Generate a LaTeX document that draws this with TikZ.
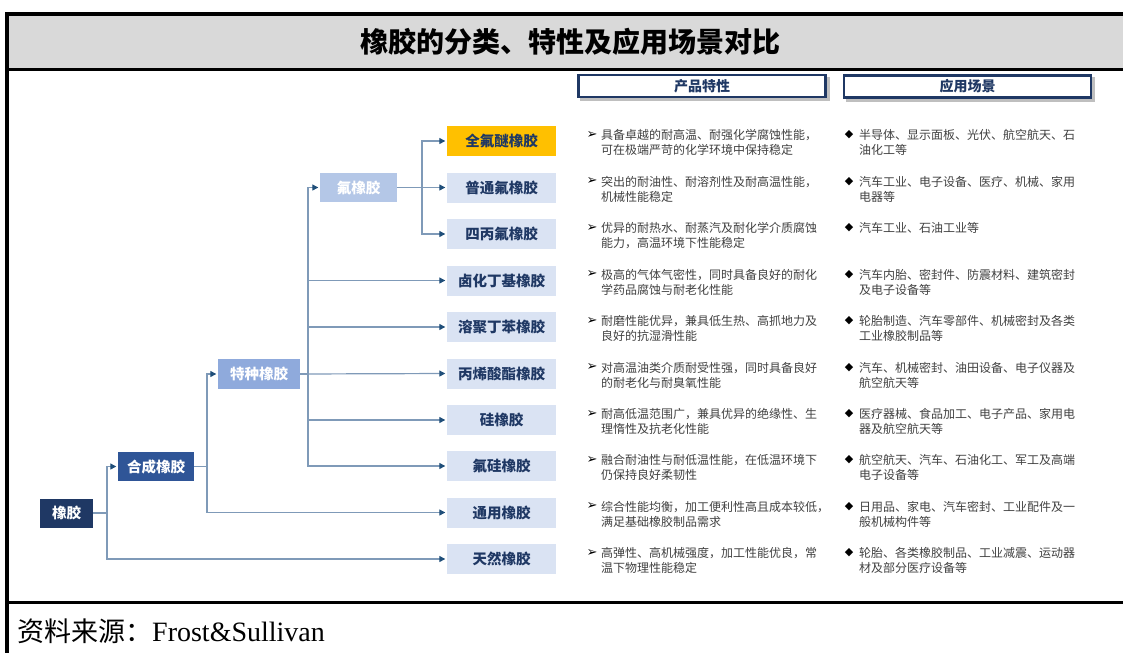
\documentclass[tikz,border=0pt]{standalone}
\usepackage{fontspec}
\setmainfont{Liberation Serif}
\newfontfamily\cjk{Noto Sans CJK SC}
\newfontfamily\symf{DejaVu Sans}
\usetikzlibrary{arrows.meta}
\definecolor{navy}{HTML}{1F3864}
\definecolor{midblue}{HTML}{2F5597}
\definecolor{lightblue}{HTML}{8FAADC}
\definecolor{paleblue}{HTML}{B4C7E7}
\definecolor{leafblue}{HTML}{DAE3F3}
\definecolor{gold}{HTML}{FFC000}
\definecolor{linec}{HTML}{7F9AB8}
\definecolor{tipc}{HTML}{1F4E79}
\definecolor{titlegray}{HTML}{D9D9D9}
\definecolor{txtgray}{HTML}{404040}
\begin{document}
\begin{tikzpicture}[x=1pt,y=-1pt,
  tbox/.style={rectangle, inner sep=0pt, minimum height=29pt, font=\cjk\bfseries\fontsize{14.5}{16}\selectfont},
  leaf/.style={tbox, fill=leafblue, text=navy, minimum width=109pt, minimum height=30pt},
  inner/.style={tbox, text=white},
  conn/.style={draw=linec, line width=1.2pt, -{Triangle[length=6pt,width=6pt,color=tipc]}, shorten >=1.5pt},
  plain/.style={draw=linec, line width=1.2pt},
  desc/.style={anchor=west, inner sep=0pt, align=left, text=txtgray, font=\cjk\fontsize{12}{15}\selectfont},
  desc1/.style={anchor=west, inner sep=0pt, align=left, text=txtgray, font=\cjk\fontsize{12}{15}\selectfont},
  bul/.style={inner sep=0pt, font=\symf\fontsize{11}{12}\selectfont},
  arrbul/.style={inner sep=0pt, font=\symf\fontsize{13}{14}\selectfont},
  hdr/.style={draw=navy, line width=2.5pt, fill=white, minimum width=247pt, minimum height=22pt, inner sep=0pt, text=navy, font=\cjk\bfseries\fontsize{14}{16}\selectfont}
]
\useasboundingbox (0,0) rectangle (1123,653);
% frame
\fill[titlegray] (7,14) rectangle (1123,69);
\draw[line width=4pt] (7,12) -- (7,653);
\draw[line width=4pt] (5,14) -- (1123,14);
\draw[line width=3pt] (5,69.5) -- (1123,69.5);
\draw[line width=3pt] (5,602.5) -- (1123,602.5);
\node[font=\cjk\bfseries\fontsize{28}{30}\selectfont] (title) at (570,42) {橡胶的分类、特性及应用场景对比};
\node[anchor=west, inner sep=0pt] (source) at (17,631) {{\cjk\fontsize{27}{29}\selectfont 资料来源：}{\fontsize{28}{30}\selectfont Frost\&Sullivan}};
% headers
\fill[black!25] (580,77) rectangle (830,101);
\fill[black!25] (846,77) rectangle (1095,102);
\node[hdr] (h1) at (702,86) {产品特性};
\node[hdr] (h2) at (967.5,86.5) {应用场景};
% tree nodes
\node[inner, fill=navy, minimum width=53pt] (rubber) at (66.5,513) {橡胶};
\node[inner, fill=midblue, minimum width=76pt] (synth) at (156,466.5) {合成橡胶};
\node[inner, fill=lightblue, minimum width=82pt, minimum height=30pt] (special) at (259,374) {特种橡胶};
\node[inner, fill=paleblue, minimum width=77pt] (fluoro) at (358.5,187.5) {氟橡胶};
% leaves
\node[leaf, fill=gold] (l1) at (501.5,141) {全氟醚橡胶};
\node[leaf] (l2) at (501.5,187.5) {普通氟橡胶};
\node[leaf] (l3) at (501.5,234) {四丙氟橡胶};
\node[leaf] (l4) at (501.5,280.5) {卤化丁基橡胶};
\node[leaf] (l5) at (501.5,327) {溶聚丁苯橡胶};
\node[leaf] (l6) at (501.5,373.5) {丙烯酸酯橡胶};
\node[leaf] (l7) at (501.5,420) {硅橡胶};
\node[leaf] (l8) at (501.5,466) {氟硅橡胶};
\node[leaf] (l9) at (501.5,512.5) {通用橡胶};
\node[leaf] (l10) at (501.5,559) {天然橡胶};
% buses
\coordinate (b1) at (107,0);
\coordinate (b2) at (207,0);
\coordinate (b3) at (308,0);
\coordinate (b4) at (422,0);
\draw[plain] (rubber.east) -- (rubber.east -| b1);
\draw[conn] (rubber.east -| b1) |- (synth.west);
\draw[conn] (rubber.east -| b1) |- (l10.west);
\draw[plain] (synth.east) -- (synth.east -| b2);
\draw[conn] (synth.east -| b2) |- (special.west);
\draw[conn] (synth.east -| b2) |- (l9.west);
\draw[plain] (special.east) -- (special.east -| b3);
\draw[conn] (special.east -| b3) |- (fluoro.west);
\draw[conn] (special.east -| b3) |- (l4.west);
\draw[conn] (special.east -| b3) |- (l5.west);
\draw[conn] (special.east) -- (l6.west);
\draw[conn] (special.east -| b3) |- (l7.west);
\draw[conn] (special.east -| b3) |- (l8.west);
\draw[plain] (fluoro.east) -- (fluoro.east -| b4);
\draw[conn] (fluoro.east -| b4) |- (l1.west);
\draw[conn] (fluoro.east) -- (l2.west);
\draw[conn] (fluoro.east -| b4) |- (l3.west);
% descriptions column 1
\foreach \n/\y/\t in {
  1/141/{具备卓越的耐高温、耐强化学腐蚀性能，\\可在极端严苛的化学环境中保持稳定},
  2/187.5/{突出的耐油性、耐溶剂性及耐高温性能，\\机械性能稳定},
  3/234/{优异的耐热水、耐蒸汽及耐化学介质腐蚀\\能力，高温环境下性能稳定},
  4/280.5/{极高的气体气密性，同时具备良好的耐化\\学药品腐蚀与耐老化性能},
  5/327/{耐磨性能优异，兼具低生热、高抓地力及\\良好的抗湿滑性能},
  6/373.5/{对高温油类介质耐受性强，同时具备良好\\的耐老化与耐臭氧性能},
  7/420/{耐高低温范围广，兼具优异的绝缘性、生\\理惰性及抗老化性能},
  8/466/{融合耐油性与耐低温性能，在低温环境下\\仍保持良好柔韧性},
  9/512.5/{综合性能均衡，加工便利性高且成本较低，\\满足基础橡胶制品需求},
  10/559/{高弹性、高机械强度，加工性能优良，常\\温下物理性能稳定}} {
  \node[desc] (p\n) at (601,\y+1.5) {\t};
  \node[arrbul] (pb\n) at (592,\y-6) {➢};
}
% descriptions column 2
\foreach \n/\y/\t in {
  1/141/{半导体、显示面板、光伏、航空航天、石\\油化工等},
  2/187.5/{汽车工业、电子设备、医疗、机械、家用\\电器等},
  4/280.5/{汽车内胎、密封件、防震材料、建筑密封\\及电子设备等},
  5/327/{轮胎制造、汽车零部件、机械密封及各类\\工业橡胶制品等},
  6/373.5/{汽车、机械密封、油田设备、电子仪器及\\航空航天等},
  7/420/{医疗器械、食品加工、电子产品、家用电\\器及航空航天等},
  8/466/{航空航天、汽车、石油化工、军工及高端\\电子设备等},
  9/512.5/{日用品、家电、汽车密封、工业配件及一\\般机械构件等},
  10/559/{轮胎、各类橡胶制品、工业减震、运动器\\材及部分医疗设备等}} {
  \node[desc] (a\n) at (859,\y+1.5) {\t};
  \node[bul] (ab\n) at (849,\y-6) {◆};
}
\node[desc1] (a3) at (859,228) {汽车工业、石油工业等};
\node[bul] (ab3) at (849,228) {◆};
\end{tikzpicture}
\end{document}
